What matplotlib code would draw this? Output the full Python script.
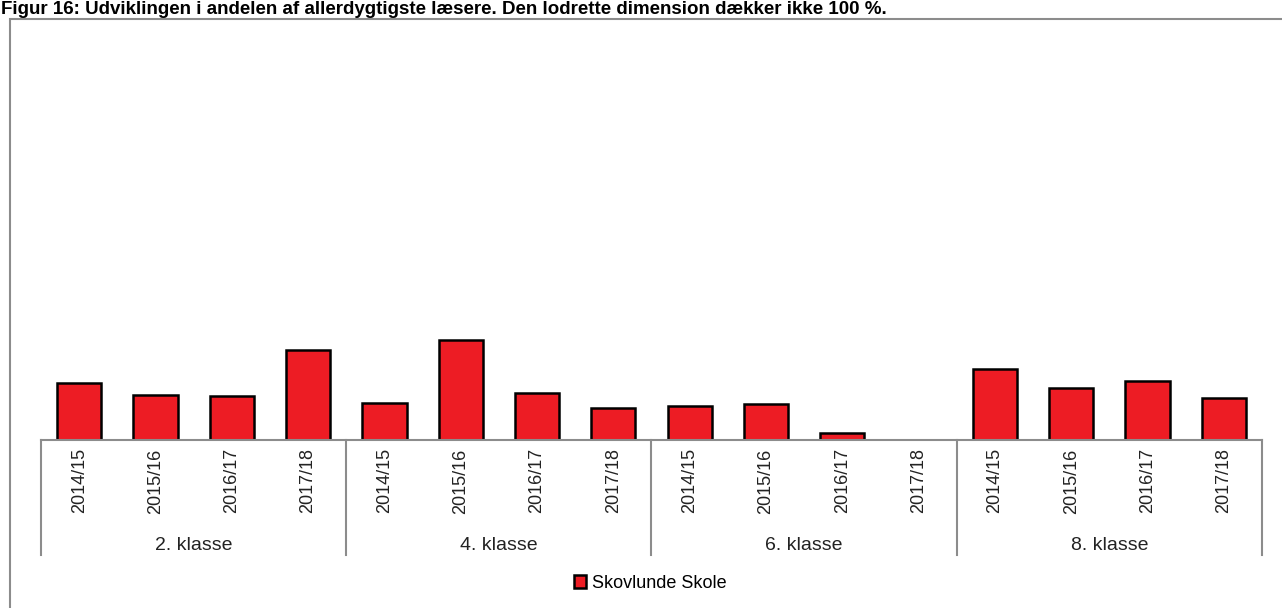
import numpy as np
import matplotlib
matplotlib.use('Agg')
import matplotlib.pyplot as plt
from matplotlib.patches import Rectangle, Patch
from matplotlib.lines import Line2D

plt.rcParams['font.family'] = ['Liberation Sans', 'DejaVu Sans']

# data (share of pupils, %)
groups = ['2. klasse', '4. klasse', '6. klasse', '8. klasse']
years = ['2014/15', '2015/16', '2016/17', '2017/18']
skovlunde = [13.9, 11.0, 10.7, 22.0,
             9.0, 24.4, 11.5, 7.8,
             8.3, 8.8, 1.7, 0.0,
             17.3, 12.7, 14.4, 10.2]
title = 'Figur 16: Udviklingen i andelen af allerdygtigste læsere. Den lodrette dimension dækker ikke 100 %.'

W, H = 1282, 608
fig = plt.figure(figsize=(W / 100, H / 100), dpi=100)

# outer frame (runs off the right and bottom edge)
fig.patches.append(Rectangle((10 / W, -0.05), 1.2, (H - 19) / H + 0.05, transform=fig.transFigure,
                             fill=False, edgecolor='#8c8c8c', linewidth=1.5))
fig.text(0.001, (H - 14.5) / H, title, fontsize=13.5, fontweight='bold', va='baseline', ha='left')

ax = fig.add_axes([41 / W, 168 / H, (1262 - 41) / W, 410 / H])
n = len(skovlunde)
x = np.arange(n)
ax.bar(x, skovlunde, width=0.58, color='#ed1c24', edgecolor='black', linewidth=1.8)
ax.set_xlim(-0.5, n - 0.5)
ax.set_ylim(0, 100)
for s in ['top', 'right', 'left']:
    ax.spines[s].set_visible(False)
ax.spines['bottom'].set_color('#8c8c8c')
ax.spines['bottom'].set_linewidth(1.5)
ax.set_yticks([])
ax.set_xticks(x)
ax.set_xticklabels(years * len(groups), rotation=90, fontsize=13, color='#222222')
ax.tick_params(axis='x', length=0, pad=6)

# group separators and group labels
sep_bottom = -(555 - 440) / 410
for i in range(len(groups) + 1):
    xs = i * len(years) - 0.5
    ax.add_line(Line2D([xs, xs], [0, sep_bottom], transform=ax.get_xaxis_transform(),
                       color='#8c8c8c', linewidth=1.5, clip_on=False))
for i, g in enumerate(groups):
    xc = i * len(years) + (len(years) - 1) / 2
    ax.text(xc, -(545 - 440) / 410, g, transform=ax.get_xaxis_transform(),
            ha='center', va='center', fontsize=14, color='#222222')

fig.legend(handles=[Patch(facecolor='#ed1c24', edgecolor='black', linewidth=1.8, label='Skovlunde Skole')],
           loc='center', bbox_to_anchor=(650 / W, (H - 583) / H), frameon=False, fontsize=13,
           handlelength=0.7, handleheight=0.7, handletextpad=0.3)

fig.savefig('out.png', dpi=100)
